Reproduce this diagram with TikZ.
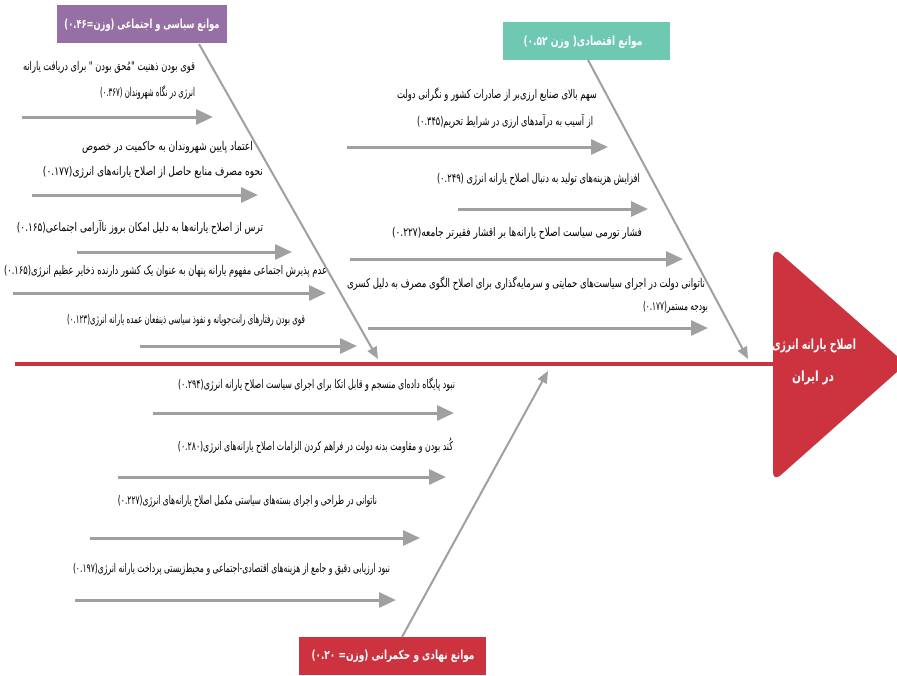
\documentclass[tikz,border=0pt]{standalone}
\usepackage{fontspec}
\usepackage{graphicx}
\usetikzlibrary{arrows.meta}
\TeXXeTstate=1
\newfontfamily\fafont[Script=Arabic]{DejaVu Sans}
\definecolor{catpurple}{RGB}{150,112,164}
\definecolor{catteal}{RGB}{110,200,178}
\definecolor{catred}{RGB}{204,51,63}
\definecolor{arrgray}{RGB}{160,160,160}
\newcommand\fw[2]{\resizebox{#1pt}{\height}{\fafont #2}}
\newcommand\fb[2]{\resizebox{#1pt}{\height}{\fafont\bfseries #2}}
\tikzset{
  txt/.style={inner sep=0pt, font=\fontsize{12}{14}\selectfont},
  cattxt/.style={inner sep=0pt, text=white, font=\fontsize{12.5}{14}\selectfont},
  headtxt/.style={inner sep=0pt, text=white, font=\fontsize{14}{16}\selectfont},
  subarrow/.style={draw=arrgray, line width=3pt, -{Triangle[length=17pt,width=15pt]}},
  bone/.style={draw=arrgray, line width=2pt, -{Triangle[length=12pt,width=10pt]}},
  spine/.style={draw=catred, line width=4pt},
}
\begin{document}
\begin{tikzpicture}[x=1pt,y=-1pt]
\useasboundingbox (0,0) rectangle (897,675);
\fill[white] (0,0) rectangle (897,675);

% head
\fill[catred, rounded corners=10pt] (773,247) -- (906,364) -- (773,482) -- cycle;
\node[headtxt] (h1) at (814,346) {\fb{84}{\beginR اصلاح یارانه انرژی\endR}};
\node[headtxt] (h2) at (813,378) {\fb{42}{\beginR در ایران\endR}};

% spine
\coordinate (sp0) at (15,364);
\coordinate (sp1) at (773,364);
\draw[spine] (sp0) -- (sp1);

% category boxes
\fill[catpurple] (57,5) rectangle (227,43);
\node[cattxt] (c1) at (142,25) {\fb{155}{\beginR موانع سیاسی و اجتماعی (وزن=۰.۴۶)\endR}};
\fill[catteal] (503,22) rectangle (670,60);
\node[cattxt] (c2) at (583,42) {\fb{119}{\beginR موانع اقتصادی( وزن ۰.۵۲)\endR}};
\fill[catred] (299,637) rectangle (486,675);
\node[cattxt] (c3) at (393,656) {\fb{163}{\beginR موانع نهادی و حکمرانی (وزن= ۰.۲۰)\endR}};

% bones
\coordinate (b1s) at (199,44);
\coordinate (b1e) at (378,359);
\coordinate (b2s) at (588,60);
\coordinate (b2e) at (748,359);
\coordinate (b3s) at (402,637);
\coordinate (b3e) at (548,371);
\draw[bone] (b1s) -- (b1e);
\draw[bone] (b2s) -- (b2e);
\draw[bone] (b3s) -- (b3e);

% left (political & social) causes
\node[txt] (t1a) at (109,67) {\fw{172}{\beginR قوی بودن ذهنیت "مُحق بودن " برای دریافت یارانه\endR}};
\node[txt] (t1b) at (147.5,93) {\fw{95}{\beginR انرژی در نگاه شهروندان (۰.۳۶۷)\endR}};
\coordinate (l1s) at (22,117); \coordinate (l1e) at (213,117);
\draw[subarrow] (l1s) -- (l1e);
\node[txt] (t2a) at (167.5,147) {\fw{171}{\beginR اعتماد پایین شهروندان به حاکمیت در خصوص\endR}};
\node[txt] (t2b) at (153,172) {\fw{220}{\beginR نحوه مصرف منابع حاصل از اصلاح یارانه‌های انرژی(۰.۱۷۷)\endR}};
\coordinate (l2s) at (32,195); \coordinate (l2e) at (258,195);
\draw[subarrow] (l2s) -- (l2e);
\node[txt] (t3) at (140,227) {\fw{246}{\beginR ترس از اصلاح یارانه‌ها به دلیل امکان بروز ناآرامی اجتماعی(۰.۱۶۵)\endR}};
\coordinate (l3s) at (77,252); \coordinate (l3e) at (292,252);
\draw[subarrow] (l3s) -- (l3e);
\node[txt] (t4) at (165.5,271) {\fw{323}{\beginR عدم پذیرش اجتماعی مفهوم یارانه پنهان به عنوان یک کشور دارنده ذخایر عظیم انرژی(۰.۱۶۵)\endR}};
\coordinate (l4s) at (13,293); \coordinate (l4e) at (326,293);
\draw[subarrow] (l4s) -- (l4e);
\node[txt] (t5) at (186,320) {\fw{238}{\beginR قوی بودن رفتارهای رانت‌جویانه و نفوذ سیاسی ذینفعان عمده یارانه انرژی(۰.۱۲۳)\endR}};
\coordinate (l5s) at (140,346); \coordinate (l5e) at (357,346);
\draw[subarrow] (l5s) -- (l5e);

% right (economic) causes
\node[txt] (r1a) at (497,95) {\fw{200}{\beginR سهم بالای صنایع ارزی‌بر از صادرات کشور و نگرانی دولت\endR}};
\node[txt] (r1b) at (505,121) {\fw{176}{\beginR از آسیب به درآمدهای ارزی در شرایط تحریم(۰.۳۴۵)\endR}};
\coordinate (r1s) at (347,147); \coordinate (r1e) at (608,147);
\draw[subarrow] (r1s) -- (r1e);
\node[txt] (r2) at (538.5,179) {\fw{203}{\beginR افزایش هزینه‌های تولید به دنبال اصلاح یارانه انرژی (۰.۲۴۹)\endR}};
\coordinate (r2s) at (458,209); \coordinate (r2e) at (648,209);
\draw[subarrow] (r2s) -- (r2e);
\node[txt] (r3) at (517,233) {\fw{250}{\beginR فشار تورمی سیاست اصلاح یارانه‌ها بر اقشار فقیرتر جامعه(۰.۲۲۷)\endR}};
\coordinate (r3s) at (350,259); \coordinate (r3e) at (683,259);
\draw[subarrow] (r3s) -- (r3e);
\node[txt] (r4a) at (526,284) {\fw{358}{\beginR ناتوانی دولت در اجرای سیاست‌های حمایتی و سرمایه‌گذاری برای اصلاح الگوی مصرف به دلیل کسری\endR}};
\node[txt] (r4b) at (675.5,307) {\fw{65}{\beginR بودجه مستمر(۰.۱۷۷)\endR}};
\coordinate (r4s) at (368,328); \coordinate (r4e) at (708,328);
\draw[subarrow] (r4s) -- (r4e);

% bottom (institutional & governance) causes
\node[txt] (q1) at (316.5,385) {\fw{277}{\beginR نبود پایگاه داده‌ای منسجم و قابل اتکا برای اجرای سیاست اصلاح یارانه انرژی(۰.۲۹۴)\endR}};
\coordinate (q1s) at (153,413); \coordinate (q1e) at (454,413);
\draw[subarrow] (q1s) -- (q1e);
\node[txt] (q2) at (315.5,446) {\fw{275}{\beginR کُند بودن و مقاومت بدنه دولت در فراهم کردن الزامات اصلاح یارانه‌های انرژی(۰.۲۸۰)\endR}};
\coordinate (q2s) at (118,477); \coordinate (q2e) at (446,477);
\draw[subarrow] (q2s) -- (q2e);
\node[txt] (q3) at (247.5,501) {\fw{259}{\beginR ناتوانی در طراحی و اجرای بسته‌های سیاستی مکمل اصلاح یارانه‌های انرژی(۰.۲۲۷)\endR}};
\coordinate (q3s) at (90,538); \coordinate (q3e) at (420,538);
\draw[subarrow] (q3s) -- (q3e);
\node[txt] (q4) at (231.5,569) {\fw{317}{\beginR نبود ارزیابی دقیق و جامع از هزینه‌های اقتصادی-اجتماعی و محیط‌زیستی پرداخت یارانه انرژی(۰.۱۹۷)\endR}};
\coordinate (q4s) at (75,600); \coordinate (q4e) at (396,600);
\draw[subarrow] (q4s) -- (q4e);
\end{tikzpicture}
\end{document}
